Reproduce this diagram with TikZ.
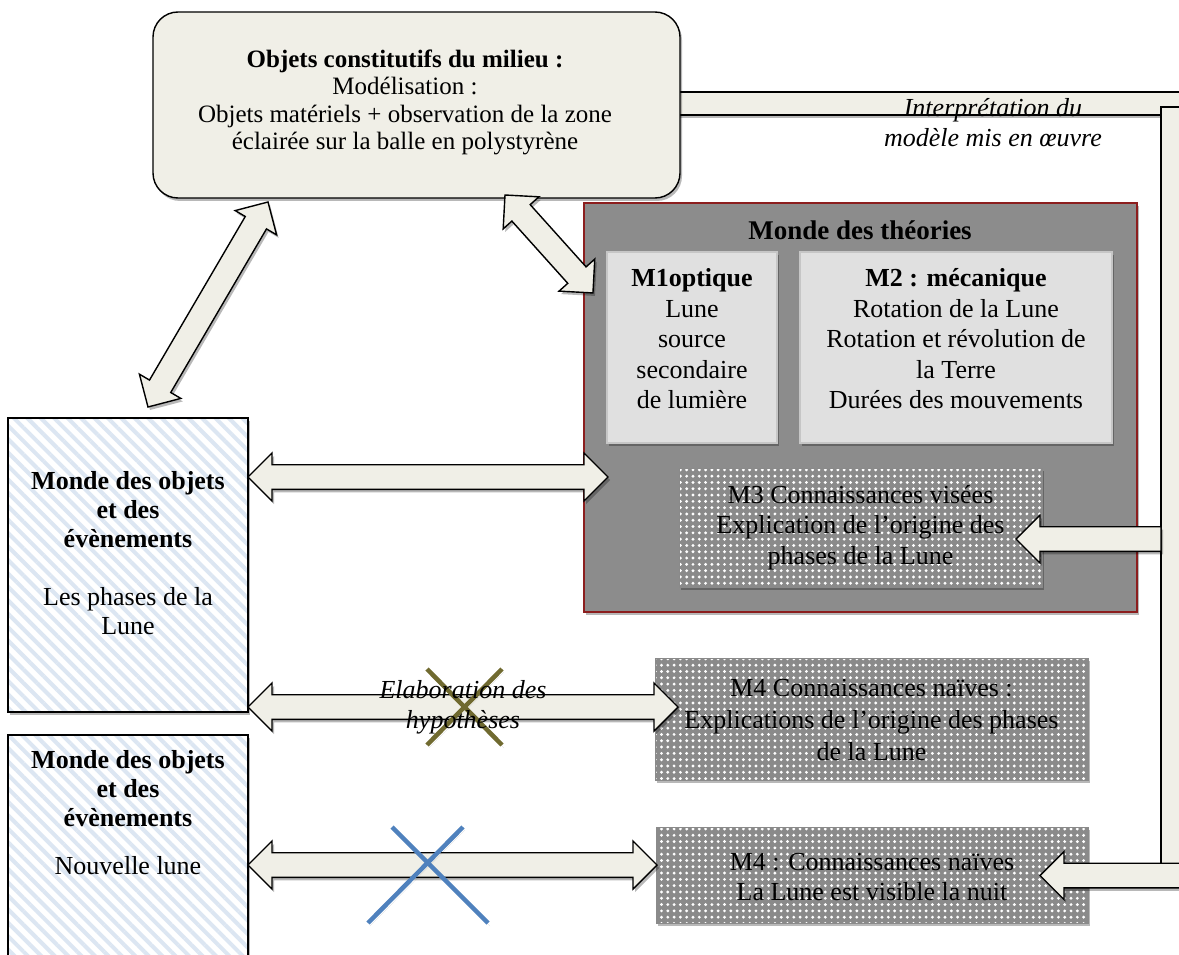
\documentclass[tikz,border=0pt]{standalone}
\usepackage{fontspec}
\setmainfont{Liberation Serif}
\usetikzlibrary{calc,shadows,patterns.meta}

\definecolor{cream}{RGB}{240,239,231}
\definecolor{mgray}{RGB}{140,140,140}
\definecolor{lgray}{RGB}{224,224,224}
\definecolor{lborder}{RGB}{198,198,198}
\definecolor{dred}{RGB}{140,30,30}
\definecolor{stripe}{RGB}{220,230,242}
\definecolor{dotgray}{RGB}{138,138,138}
\definecolor{olivex}{RGB}{112,106,48}
\definecolor{xblue}{RGB}{79,129,189}

\newcommand{\myfs}[2]{\fontsize{#1}{#2}\selectfont}
\newcommand{\bhl}{24}
\newcommand{\bhw}{24}
\newcommand{\bsw}{12.3}

% double-headed block arrow between two named coordinates
\newcommand{\dblarrow}[2]{%
  \pgfpointdiff{\pgfpointanchor{#1}{center}}{\pgfpointanchor{#2}{center}}%
  \pgfgetlastxy{\bDx}{\bDy}%
  \pgfmathsetmacro\bLen{veclen(\bDx,\bDy)}%
  \pgfmathsetmacro\bAng{atan2(\bDy,\bDx)}%
  \begin{scope}[shift={(#1)},rotate=\bAng]
    \draw[barrow] (0,0) -- (\bhl,\bhw) -- (\bhl,\bsw) -- ({\bLen-\bhl},\bsw)
      -- ({\bLen-\bhl},\bhw) -- (\bLen,0) -- ({\bLen-\bhl},-\bhw)
      -- ({\bLen-\bhl},-\bsw) -- (\bhl,-\bsw) -- (\bhl,-\bhw) -- cycle;
  \end{scope}}

% single block arrow: #1 = tip, #2 = tail
\newcommand{\sglarrow}[2]{%
  \pgfpointdiff{\pgfpointanchor{#1}{center}}{\pgfpointanchor{#2}{center}}%
  \pgfgetlastxy{\bDx}{\bDy}%
  \pgfmathsetmacro\bLen{veclen(\bDx,\bDy)}%
  \pgfmathsetmacro\bAng{atan2(\bDy,\bDx)}%
  \begin{scope}[shift={(#1)},rotate=\bAng]
    \draw[barrow] (0,0) -- (\bhl,\bhw) -- (\bhl,\bsw) -- (\bLen,\bsw)
      -- (\bLen,-\bsw) -- (\bhl,-\bsw) -- (\bhl,-\bhw) -- cycle;
  \end{scope}}

\begin{document}
\begin{tikzpicture}[x=1pt,y=1pt,
  every node/.style={inner sep=0pt,outer sep=0pt},
  shad/.style={drop shadow={shadow xshift=2pt,shadow yshift=-3pt,opacity=0.28,fill=black}},
  barrow/.style={draw=black,line width=1.4pt,fill=cream,line join=miter,shad},
  band/.style={draw=black,line width=1.4pt,fill=cream,shad},
  topbox/.style={draw=black,line width=1.4pt,fill=cream,rounded corners=25pt,shad},
  mtbox/.style={shad,draw=dred,line width=1.5pt,fill=mgray},
  mbox/.style={shad,draw=lborder,line width=2pt,fill=lgray},
  dotbox/.style={shad,preaction={fill=dotgray},pattern={Dots[distance=6.3pt,radius=1.6pt]},pattern color=white,draw=dotgray,line width=1pt},
  worldbox/.style={shad,preaction={fill=white},pattern={Lines[angle=-45,distance=9.5pt,line width=4pt]},pattern color=stripe,draw=black,line width=1.8pt},
  txt/.style={align=center,font=\myfs{26}{30.5}},
  itlab/.style={align=center,font=\itshape\myfs{26}{30}},
  xmark/.style={line width=4.5pt,shad}
]
\useasboundingbox (0,0) rectangle (1179,-955);
\clip (0,0) rectangle (1179,-955);

% right-hand frame bands
\draw[band] (660,-92) rectangle (1195,-115);
\draw[band] (1161,-107) rectangle (1195,-880);

% top box
\node[topbox,minimum width=527pt,minimum height=186pt] (obj) at (416.5,-105) {};
\node[align=center,font=\myfs{25}{27.3}] (objtxt) at (405,-102.5)
  {\textbf{Objets constitutifs du milieu :}\\Modélisation :\\Objets matériels + observation de la zone\\éclairée sur la balle en polystyrène};

% Monde des théories
\node[mtbox,minimum width=553pt,minimum height=409pt] (mt) at (860.5,-407.5) {};
\node[font=\bfseries\myfs{27}{30}] (mttitle) at (860,-230) {Monde des théories};
\node[mbox,minimum width=170pt,minimum height=191pt] (m1) at (692,-347.5) {};
\node[txt] (m1t) at (692,-339) {\textbf{M1optique}\\Lune\\source\\secondaire\\de lumière};
\node[mbox,minimum width=312pt,minimum height=191pt] (m2) at (956,-347.5) {};
\node[txt] (m2t) at (956,-339) {\textbf{M2 : mécanique}\\Rotation de la Lune\\Rotation et révolution de\\la Terre\\Durées des mouvements};
\node[dotbox,minimum width=363pt,minimum height=119pt] (m3) at (860.5,-527.5) {};
\node[txt] (m3t) at (860.5,-527.5) {M3 Connaissances visées\\Explication de l’origine des\\phases de la Lune};

% M4 boxes
\node[dotbox,minimum width=433pt,minimum height=122pt] (m4a) at (871.5,-719) {};
\node[align=center,font=\myfs{26}{32}] (m4at) at (871.5,-720) {M4 Connaissances naïves :\\Explications de l’origine des phases\\de la Lune};
\node[dotbox,minimum width=432pt,minimum height=96pt] (m4b) at (872,-875) {};
\node[txt,font=\myfs{26}{30}] (m4bt) at (872,-877) {M4 : Connaissances naïves\\La Lune est visible la nuit};

% left boxes
\node[worldbox,minimum width=240pt,minimum height=294pt] (w1) at (128,-565) {};
\node[align=center,font=\myfs{26}{29}] (w1t) at (128,-553) {\textbf{Monde des objets}\\\textbf{et des}\\\textbf{évènements}\\[29pt]Les phases de la\\Lune};
\node[worldbox,minimum width=240pt,minimum height=240pt] (w2) at (128,-855) {};
\node[align=center,font=\myfs{26}{29}] (w2t) at (128,-813) {\textbf{Monde des objets}\\\textbf{et des}\\\textbf{évènements}\\[19pt]Nouvelle lune};

% arrow end points
\coordinate (d1a) at (148,-407);
\coordinate (d1b) at (268,-202);
\coordinate (d2a) at (505,-195);
\coordinate (d2b) at (593,-293);
\coordinate (ma) at (248,-477);
\coordinate (mb) at (608,-477);
\coordinate (ea) at (248,-707);
\coordinate (eb) at (678,-707);
\coordinate (ba) at (248,-865);
\coordinate (bb) at (657,-865);
\coordinate (m3tip) at (1016,-539);
\coordinate (m3tail) at (1161,-539);
\coordinate (m4tip) at (1040,-875.5);
\coordinate (m4tail) at (1200,-875.5);

\dblarrow{d1a}{d1b}
\dblarrow{d2a}{d2b}
\dblarrow{ma}{mb}
\dblarrow{ea}{eb}
\dblarrow{ba}{bb}
\sglarrow{m3tip}{m3tail}
\sglarrow{m4tip}{m4tail}

% crosses
\draw[xmark,olivex] (427,-669) -- (502,-745);
\draw[xmark,olivex] (502,-669) -- (427,-745);
\draw[xmark,xblue] (392,-827) -- (488,-923);
\draw[xmark,xblue] (463,-827) -- (368,-923);

% italic labels
\node[itlab] (intl) at (993,-123) {Interprétation du\\modèle mis en œuvre};
\node[itlab] (elab) at (463,-707.5) {Elaboration des\\hypothèses};
\end{tikzpicture}
\end{document}
